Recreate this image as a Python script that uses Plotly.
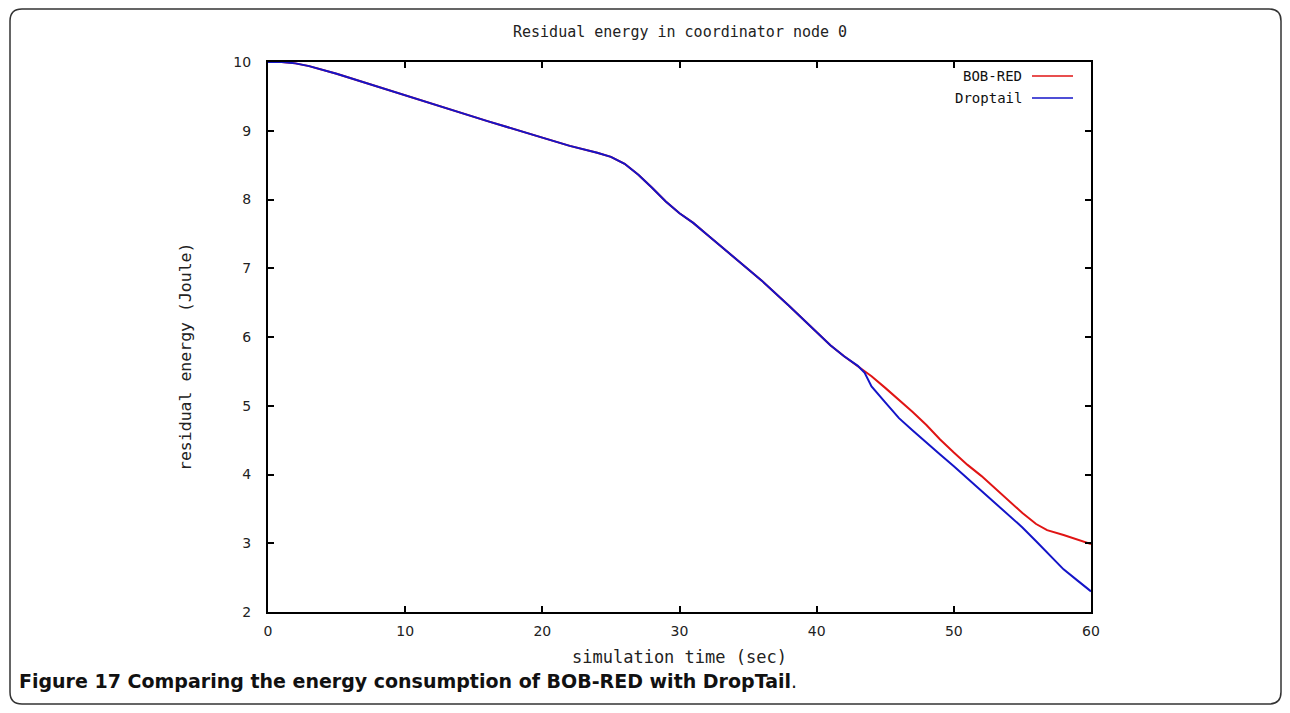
import plotly.graph_objects as go

# Data
time_bobred = [0, 1, 2, 3, 5, 8, 10, 13, 16, 20, 22, 24, 25, 26, 27, 28, 29, 30, 31, 32, 34, 36, 38, 40, 41, 42, 43,
               44, 45, 46, 47, 48, 49, 50, 51, 52, 53, 54, 55, 56, 56.8, 58, 59, 60]
energy_bobred = [10.0, 10.0, 9.98, 9.94, 9.83, 9.64, 9.51, 9.32, 9.14, 8.90, 8.78, 8.68, 8.62, 8.52, 8.36, 8.17, 7.97,
                 7.80, 7.66, 7.49, 7.16, 6.82, 6.45, 6.06, 5.88, 5.72, 5.58,
                 5.43, 5.26, 5.09, 4.91, 4.72, 4.51, 4.32, 4.14, 3.98, 3.80, 3.62, 3.44, 3.28, 3.19, 3.12, 3.06, 2.99]

time_droptail = [0, 1, 2, 3, 5, 8, 10, 13, 16, 20, 22, 24, 25, 26, 27, 28, 29, 30, 31, 32, 34, 36, 38, 40, 41, 42, 43,
                 43.5, 44, 45, 46, 47, 48, 49, 50, 51, 52, 53, 54, 55, 56, 57, 58, 59, 60]
energy_droptail = [10.0, 10.0, 9.98, 9.94, 9.83, 9.64, 9.51, 9.32, 9.14, 8.90, 8.78, 8.68, 8.62, 8.52, 8.36, 8.17, 7.97,
                   7.80, 7.66, 7.49, 7.16, 6.82, 6.45, 6.06, 5.88, 5.72, 5.58,
                   5.48, 5.28, 5.05, 4.82, 4.64, 4.46, 4.29, 4.12, 3.94, 3.76, 3.58, 3.40, 3.23, 3.03, 2.82, 2.62, 2.46, 2.30]

x_ticks = [0, 10, 20, 30, 40, 50, 60]
y_ticks = [2, 3, 4, 5, 6, 7, 8, 9, 10]

RED = "#e01414"
BLUE = "#1414c8"
MONO = "DejaVu Sans Mono, Liberation Mono, monospace"
SANS = "DejaVu Sans, Verdana, sans-serif"

O = 8  # page body margin
W, H = 1290 - 2 * O, 713 - 2 * O
L, T = 268 - O, 62 - O
PW, PH = 1091 - 268, 612 - 62
R, B = W - L - PW, H - T - PH


def px(x):  # page pixel x -> paper
    return (x - O - L) / PW


def py(y):  # page pixel y -> paper
    return (T + PH - (y - O)) / PH


fig = go.Figure()
fig.add_trace(go.Scatter(x=time_bobred, y=energy_bobred, mode="lines", name="BOB-RED",
                         line=dict(color=RED, width=2)))
fig.add_trace(go.Scatter(x=time_droptail, y=energy_droptail, mode="lines", name="Droptail",
                         line=dict(color=BLUE, width=2)))

axis_common = dict(showgrid=False, zeroline=False, showline=True, linecolor="black", linewidth=2,
                   mirror="ticks", ticks="inside", ticklen=6, tickwidth=2, tickcolor="black",
                   tickfont=dict(family=SANS, size=14, color="#222"))

fig.update_xaxes(range=[0, 60], tickvals=x_ticks, ticktext=[str(v) for v in x_ticks],
                 ticklabelstandoff=5, **axis_common)
fig.update_yaxes(range=[2, 10], tickvals=y_ticks, ticktext=[str(v) for v in y_ticks],
                 ticklabelstandoff=12, **axis_common)

# rounded outer frame
x0, x1 = px(10), px(1281)
y0, y1 = py(9), py(704)
rx, ry = 12 / PW, 12 / PH
path = (f"M {x0+rx},{y0} L {x1-rx},{y0} Q {x1},{y0} {x1},{y0-ry} "
        f"L {x1},{y1+ry} Q {x1},{y1} {x1-rx},{y1} L {x0+rx},{y1} Q {x0},{y1} {x0},{y1+ry} "
        f"L {x0},{y0-ry} Q {x0},{y0} {x0+rx},{y0} Z")
shapes = [dict(type="path", xref="paper", yref="paper", path=path, line=dict(color="#333", width=1.5))]

# legend (text left of line sample, gnuplot style)
annotations = []
for label, color, ypix in [("BOB-RED", RED, 76), ("Droptail", BLUE, 98)]:
    annotations.append(dict(x=px(1024), y=py(ypix), xref="paper", yref="paper", text=label, showarrow=False,
                            xanchor="right", yanchor="middle", font=dict(family=MONO, size=14, color="#111")))
    shapes.append(dict(type="line", xref="paper", yref="paper", x0=px(1032), x1=px(1073), y0=py(ypix), y1=py(ypix),
                       line=dict(color=color, width=1.5)))

annotations.append(dict(x=0.5, y=py(32), xref="paper", yref="paper", text="Residual energy in coordinator node 0",
                        showarrow=False, xanchor="center", yanchor="middle",
                        font=dict(family=MONO, size=15, color="#222")))
annotations.append(dict(x=0.5, y=py(657), xref="paper", yref="paper", text="simulation time (sec)",
                        showarrow=False, xanchor="center", yanchor="middle",
                        font=dict(family=MONO, size=17, color="#222")))
annotations.append(dict(x=px(185), y=py(357), xref="paper", yref="paper", text="residual energy (Joule)",
                        showarrow=False, xanchor="center", yanchor="middle", textangle=-90,
                        font=dict(family=MONO, size=16.5, color="#222")))
annotations.append(dict(x=px(17), y=py(681), xref="paper", yref="paper",
                        text="<b>Figure 17 Comparing the energy consumption of BOB-RED with DropTail</b>.",
                        showarrow=False, xanchor="left", yanchor="middle",
                        font=dict(family="DejaVu Sans, sans-serif", size=19, color="#111")))

fig.update_layout(width=W, height=H, margin=dict(l=L, r=R, t=T, b=B),
                  paper_bgcolor="white", plot_bgcolor="white", showlegend=False,
                  shapes=shapes, annotations=annotations)

fig.write_html("out.html")
